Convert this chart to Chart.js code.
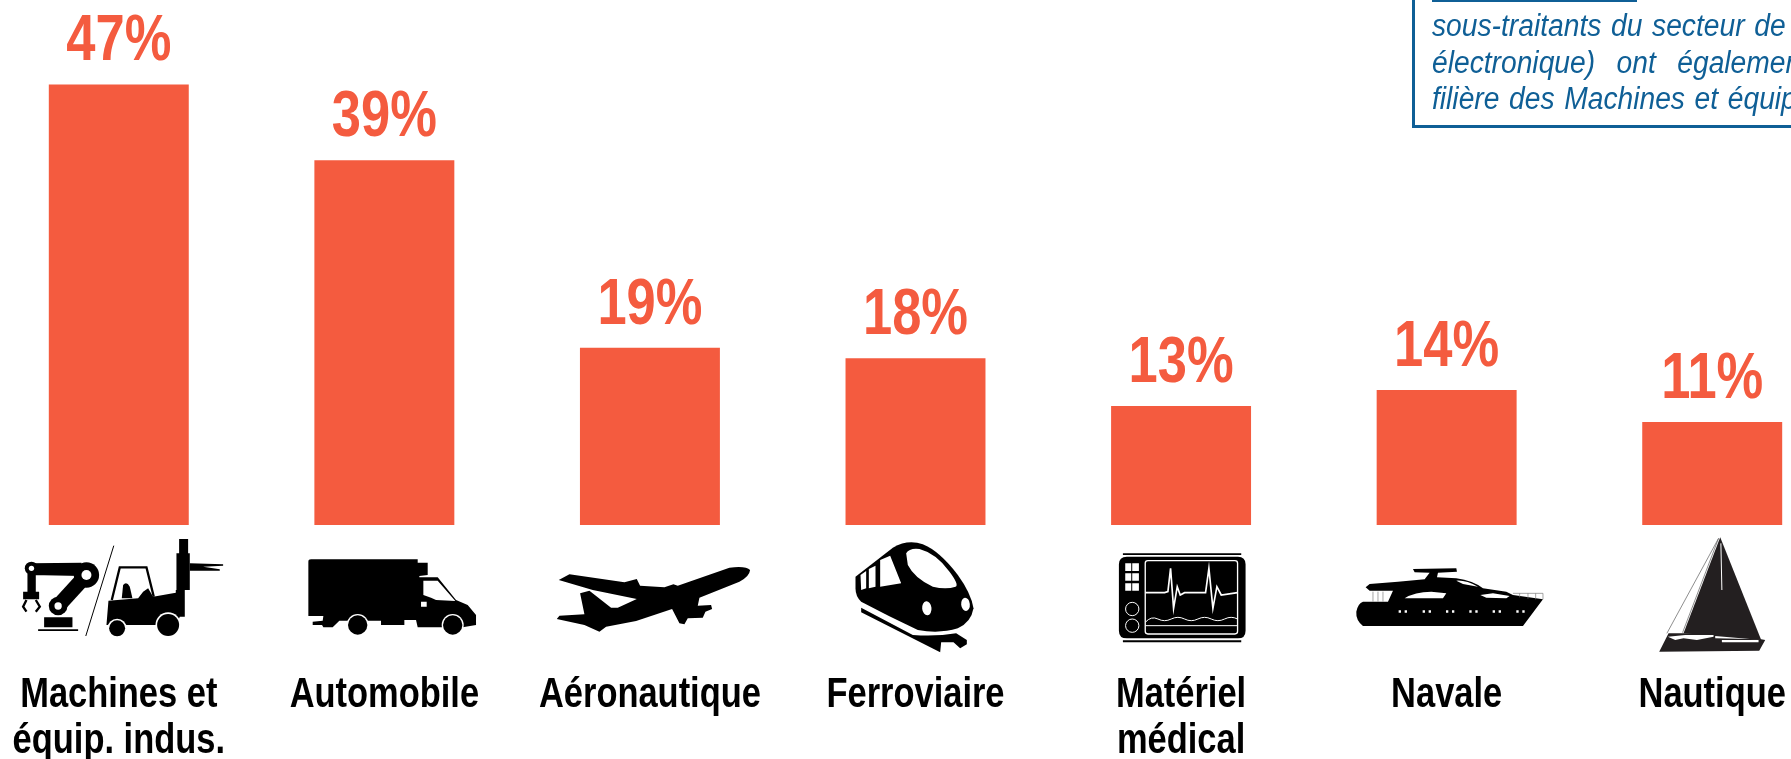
<!DOCTYPE html>
<html lang="fr">
<head>
<meta charset="utf-8">
<title>Filières</title>
<script src="https://cdn.jsdelivr.net/npm/chart.js@4"></script>
<style>
    html, body { margin: 0; padding: 0; background: #fff; width: 1791px; height: 759px; overflow: hidden; }
    #chart { position: absolute; left: -14px; top: 0; }
    #note { position: absolute; left: 1412px; top: -10px; width: 500px; height: 132px; border: 3px solid #0f5f96; box-sizing: content-box; }
    #note-rule { position: absolute; left: 1432px; top: 0; width: 205px; height: 2px; background: #0f5f96; }
    .note-line { position: absolute; left: 1432px; font: italic 31px "Liberation Sans", sans-serif; color: #0f5f96; white-space: nowrap; transform: scaleX(0.91); transform-origin: left top; }
</style>
</head>
<body>
<canvas id="chart"></canvas>
<div id="note"></div>
<div id="note-rule"></div>
<div class="note-line" style="top:8px; word-spacing:2px">sous-traitants du secteur de</div>
<div class="note-line" style="top:45px; word-spacing:15px">électronique) ont également</div>
<div class="note-line" style="top:81px; word-spacing:2px">filière des Machines et équipements</div>
<script>
const categories = [
    ['Machines et', 'équip. indus.'],
    'Automobile',
    'Aéronautique',
    'Ferroviaire',
    ['Matériel', 'médical'],
    'Navale',
    'Nautique'
];
const shares = [47, 38.9, 18.9, 17.8, 12.7, 14.4, 11];

const BAR_COLOR = '#f45b3f';
const LABEL_FONT = '"Liberation Sans", sans-serif';
const NARROW = 0.82; // the reference uses a condensed Arial, no such font here

// pictograms, drawn in zoomed coordinates (3x), dx = offset from the bar centre
const icons = [
    { dx: -109, y: 530, parts: [
        { fill: '#000', d: 'M103 262H188V292H103Z M85 298H205V303H85Z' },
        { stroke: '#000', w: 45, d: 'M145 228L230 135' },
        { fill: '#000', d: 'M65 100L215 98V138L65 135Z M53 130H78V185H53Z M40 185H88V208H40Z' },
        { stroke: '#000', w: 7, d: 'M50 210L40 230L50 245 M78 210L90 230L78 245' },
        { circle: [230, 135, 38], fill: '#000' }, { circle: [230, 135, 15], fill: '#fff' },
        { circle: [145, 228, 28], fill: '#000' }, { circle: [145, 228, 11], fill: '#fff' },
        { circle: [65, 115, 20], fill: '#000' }, { circle: [65, 115, 8], fill: '#fff' },
        { stroke: '#000', w: 3, d: 'M312 47L228 318' },
        { fill: '#000', d: 'M290 285L296 212L385 205L400 185L415 175L430 200L498 188V180H525V260H510L500 285Z' },
        { stroke: '#000', w: 7, d: 'M306 210L330 112H410L432 200' },
        { fill: '#000', d: 'M336 205L340 165Q350 152 360 170L368 205Z' },
        { fill: '#000', d: 'M508 27H535V70H540V180H500V70H508Z' },
        { fill: '#000', d: 'M540 100L640 103V107L580 110L630 118V122L540 122Z' },
        { circle: [322, 295, 29], fill: '#fff' }, { circle: [322, 295, 24], fill: '#000' },
        { circle: [475, 285, 38], fill: '#fff' }, { circle: [475, 285, 33], fill: '#000' }
    ] },
    { dx: -85, y: 550, parts: [
        { fill: '#000', d: 'M27 35Q27 28 35 28H355V38H385V75L360 78V82H415L470 150L505 165L530 195V225L490 232H355L350 210H315V225H245V212H120L100 232H72L68 225H40V215L70 212L72 198H27Z' },
        { fill: '#fff', d: 'M372 92H415L468 153L410 150L395 143L372 135Z M365 155H382V170H365Z' },
        { circle: [175, 225, 33], fill: '#fff' }, { circle: [175, 225, 29], fill: '#000' },
        { circle: [460, 225, 33], fill: '#fff' }, { circle: [460, 225, 29], fill: '#000' }
    ] },
    { dx: -100.5, y: 555, parts: [
        { fill: '#000', d: 'M28 75L60 58L225 82L262 72L272 92L345 97L372 88L385 92L540 38Q590 32 602 45Q600 65 570 80L450 128L445 152L485 150L488 162L468 170L460 188L415 190L405 208L390 205L368 162L260 198L170 215L150 230L105 210L22 192L30 182L105 178L92 115L120 107L185 158L205 158L262 132L130 105Z' }
    ] },
    { dx: -66, y: 535, parts: [
        { fill: '#000', d: 'M18 125L130 38Q175 12 220 28Q270 48 325 120Q365 175 372 220Q365 262 325 280Q270 297 205 285Q120 245 35 200Q18 185 18 160Z' },
        { fill: '#000', d: 'M35 218L190 300Q260 305 320 295L352 315V328L332 340L312 322H275L272 352L35 232Z' },
        { fill: '#fff', d: 'M170 55Q180 38 210 42Q260 55 300 110Q330 150 318 155Q290 165 250 155Q195 130 175 90Z M92 75L122 62L155 145L92 155Z M58 102L78 92V155L58 160Z M33 120L50 108V160L35 165Z' },
        { ellipse: [232, 220, 14, 21], fill: '#fff' }, { ellipse: [348, 208, 13, 20], fill: '#fff' }
    ] },
    { dx: -71.5, y: 545, parts: [
        { fill: '#000', d: 'M52 35H385Q408 35 408 58V257Q408 280 385 280H52Q28 280 28 257V58Q28 35 52 35Z M40 25H395V30H40Z M40 286H395V292H40Z' },
        { stroke: '#fff', w: 4, d: 'M115 47H376Q384 47 384 55V259Q384 267 376 267H115Q107 267 107 259V55Q107 47 115 47Z' },
        { fill: '#fff', d: 'M47 55H65V78H47Z M68 55H88V78H68Z M47 85H65V107H47Z M68 85H88V107H68Z M47 115H65V137H47Z M68 115H88V137H68Z' },
        { stroke: '#fff', w: 3, d: 'M88 192A20 20 0 1 1 48 192A20 20 0 1 1 88 192Z M88 242A20 20 0 1 1 48 242A20 20 0 1 1 88 242Z' },
        { stroke: '#fff', w: 5, d: 'M107 143H165L175 140L183 70L192 190L203 125L212 150L225 143H288L298 70L310 190L322 125L335 150L384 143' },
        { stroke: '#fff', w: 3, d: 'M107 232Q125 212 145 222T185 222T225 222T265 222T305 222T345 222T384 222 M107 242H384' }
    ] },
    { dx: -97, y: 560, parts: [
        { fill: '#000', d: 'M190 27L320 25L322 35L265 38L262 52L320 55Q370 62 400 85L470 95L490 105L580 118L520 198H40Q18 180 20 155Q25 130 40 125H115L130 92H60L48 82L60 72L145 65L225 58L240 38L195 37Z' },
        { fill: '#fff', d: 'M165 115Q195 95 245 95L290 100L280 115Z M392 105L430 100L480 108L470 115L410 113Z M320 62Q350 60 385 80L340 72Z' },
        { fill: '#fff', d: 'M147 151h7v7h-7Z M165 151h7v7h-7Z M219 151h7v7h-7Z M237 151h7v7h-7Z M289 151h7v7h-7Z M307 151h7v7h-7Z M359 151h7v7h-7Z M377 151h7v7h-7Z M429 151h7v7h-7Z M447 151h7v7h-7Z M500 151h7v7h-7Z M518 151h7v7h-7Z' },
        { stroke: '#777', w: 2, d: 'M70 95V125 M85 95V125 M100 95V125 M490 100H580 M510 100V112 M535 100V116 M558 100V118 M580 100V118' }
    ] },
    { dx: -57, y: 530, parts: [
        { fill: '#231f20', d: 'M195 22L318 330L85 310Z' },
        { stroke: '#555', w: 2, d: 'M190 25L35 310 M190 25L82 308' },
        { fill: '#231f20', d: 'M40 310H180V325L318 328L330 330L312 362L12 365Z' },
        { stroke: '#fff', w: 3, d: 'M197 40L200 180' },
        { fill: '#fff', d: 'M200 330H310V337H200Z M38 320L90 315H175V320L125 330L85 325L60 330Z' }
    ] }
];

function drawIcon(ctx, icon, cx) {
    ctx.save();
    ctx.translate(cx + icon.dx, icon.y);
    ctx.scale(1 / 3, 1 / 3);
    icon.parts.forEach(function (p) {
        ctx.beginPath();
        let path = null;
        if (p.circle) {
            ctx.arc(p.circle[0], p.circle[1], p.circle[2], 0, Math.PI * 2);
        } else if (p.ellipse) {
            ctx.ellipse(p.ellipse[0], p.ellipse[1], p.ellipse[2], p.ellipse[3], -0.1, 0, Math.PI * 2);
        } else {
            path = new Path2D(p.d);
        }
        if (p.stroke) {
            ctx.strokeStyle = p.stroke;
            ctx.lineWidth = p.w;
            path ? ctx.stroke(path) : ctx.stroke();
        } else {
            ctx.fillStyle = p.fill;
            path ? ctx.fill(path) : ctx.fill();
        }
    });
    ctx.restore();
}

function narrowText(ctx, text, x, y) {
    ctx.save();
    ctx.translate(x, y);
    ctx.scale(NARROW, 1);
    ctx.fillText(text, 0, 0);
    ctx.restore();
}

const barExtras = {
    id: 'barExtras',
    afterDatasetsDraw(chart) {
        const ctx = chart.ctx;
        const bars = chart.getDatasetMeta(0).data;
        ctx.save();
        ctx.textAlign = 'center';
        ctx.textBaseline = 'alphabetic';
        bars.forEach(function (bar, i) {
            ctx.fillStyle = BAR_COLOR;
            ctx.font = 'bold 64px ' + LABEL_FONT;
            narrowText(ctx, Math.round(shares[i]) + '%', bar.x, bar.y - 24);

            drawIcon(ctx, icons[i], bar.x);

            // category labels, ticks can't be squeezed so they are drawn here
            ctx.fillStyle = '#000';
            ctx.font = 'bold 42px ' + LABEL_FONT;
            [].concat(categories[i]).forEach(function (line, n) {
                narrowText(ctx, line, bar.x, 707 + n * 46);
            });
        });
        ctx.restore();
    }
};

const canvas = document.getElementById('chart');
canvas.width = 1859;
canvas.height = 759;

new Chart(canvas.getContext('2d'), {
    type: 'bar',
    data: {
        labels: categories,
        datasets: [{
            data: shares,
            backgroundColor: BAR_COLOR,
            borderWidth: 0,
            barPercentage: 0.527,
            categoryPercentage: 1
        }]
    },
    options: {
        responsive: false,
        animation: false,
        layout: { padding: 0 },
        plugins: { legend: { display: false }, tooltip: { enabled: false } },
        scales: {
            x: {
                grid: { display: false },
                border: { display: false },
                ticks: { display: false },
                afterFit: function (scale) { scale.height = 234; }
            },
            y: { display: false, min: 0, max: 56 }
        }
    },
    plugins: [barExtras]
});
</script>
</body>
</html>
